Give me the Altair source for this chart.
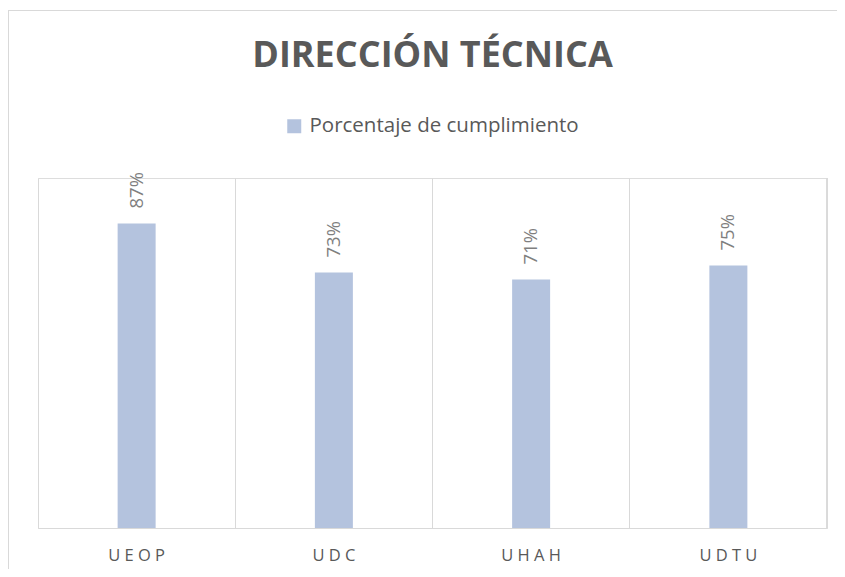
import altair as alt
import pandas as pd

categories = ["UEOP", "UDC", "UHAH", "UDTU"]
values = [0.87, 0.73, 0.71, 0.75]
series_name = "Porcentaje de cumplimiento"
title_text = "DIRECCIÓN TÉCNICA"

df = pd.DataFrame({"unidad": categories, "valor": values, "serie": [series_name] * len(categories)})

W, H = 789, 350
FONT = "Open Sans"
BAR = "#b4c3de"

base = alt.Chart(df)

bars = base.mark_bar(size=38, color=BAR).encode(
    x=alt.X("unidad:N", sort=categories, title=None,
            scale=alt.Scale(paddingInner=0, paddingOuter=0),
            axis=alt.Axis(bandPosition=0, grid=True, gridColor="#d9d9d9", gridWidth=1,
                          ticks=False, domainColor="#d9d9d9", domainWidth=1,
                          labelAngle=0, labelFont=FONT, labelFontSize=16.5, labelColor="#595959",
                          labelPadding=19, labelAlign="center",
                          labelExpr="join(split(datum.label, ''), ' ')")),
    y=alt.Y("valor:Q", scale=alt.Scale(domain=[0, 1]), axis=None),
    color=alt.Color("serie:N", scale=alt.Scale(range=[BAR]),
                    legend=alt.Legend(title=None, orient="none", legendX=246, legendY=-62,
                                      symbolType="square", symbolSize=196,
                                      symbolStrokeWidth=0, labelFont=FONT,
                                      labelFontSize=20.5, labelColor="#595959",
                                      labelOffset=5, labelLimit=0)),
)

labels = base.mark_text(angle=270, align="left", baseline="middle", dx=15,
                        font=FONT, fontSize=18.5, color="#7f7f7f").encode(
    x=alt.X("unidad:N", sort=categories),
    y=alt.Y("valor:Q"),
    text=alt.Text("valor:Q", format=".0%"),
)

right_edge = base.mark_rule(color="#d9d9d9", strokeWidth=1).encode(
    x=alt.value(W), y=alt.value(0), y2=alt.value(H)
)

frame = base.mark_rect(fill=None, stroke="#d9d9d9", strokeWidth=1).encode(
    x=alt.value(-29.5), x2=alt.value(W + 60), y=alt.value(-167.5), y2=alt.value(H + 80)
)

chart = alt.layer(frame, right_edge, bars, labels).properties(
    width=W, height=H,
    title=alt.TitleParams(title_text, font=FONT, fontSize=36, fontWeight="bold",
                          color="#595959", anchor="middle", offset=0, dy=65),
    autosize=alt.AutoSizeParams(type="none"),
    padding={"left": 30, "top": 170, "right": 10, "bottom": 41},
).configure_view(stroke=None).configure(background="white")

chart.save("out.html", embed_options={"renderer": "svg", "actions": False})
